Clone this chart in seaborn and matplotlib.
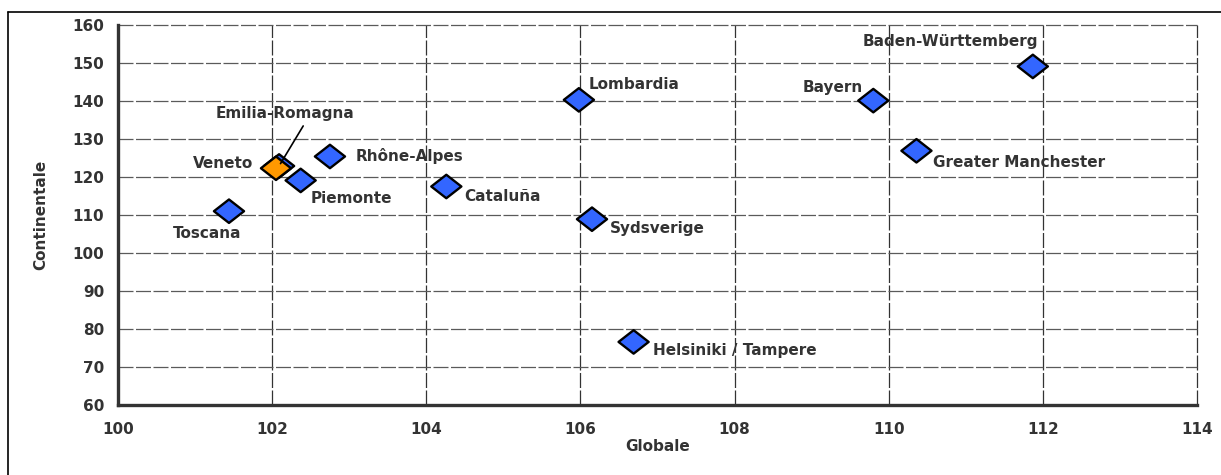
import matplotlib
matplotlib.use("Agg")
import matplotlib.pyplot as plt
import seaborn as sns
import pandas as pd
from matplotlib.path import Path
from matplotlib.lines import Line2D

# ---- data ----
regions = ["Toscana", "Emilia-Romagna", "Piemonte", "Rhône-Alpes", "Cataluña",
           "Lombardia", "Sydsverige", "Helsiniki / Tampere", "Bayern",
           "Greater Manchester", "Baden-Württemberg", "Veneto"]
globale = [101.44, 102.09, 102.37, 102.75, 104.26, 105.98, 106.15, 106.69,
           109.80, 110.36, 111.87, 102.05]
continentale = [111.0, 122.9, 119.1, 125.4, 117.5, 140.3, 108.9, 76.6,
                140.1, 126.9, 149.1, 122.3]
group = ["other"] * 11 + ["highlight"]
x_ticks = [100, 102, 104, 106, 108, 110, 112, 114]
y_ticks = [60, 70, 80, 90, 100, 110, 120, 130, 140, 150, 160]

df = pd.DataFrame({"Region": regions, "Globale": globale,
                   "Continentale": continentale, "Group": group})

# ---- style ----
sns.set_style("white")
plt.rcParams["font.family"] = ["DejaVu Sans"]
plt.rcParams["font.weight"] = "bold"
TXT = "#333333"
FS = 11

fig = plt.figure(figsize=(12.21, 4.75), dpi=100)
ax = fig.add_axes([118 / 1221, 1 - 405 / 475, (1197 - 118) / 1221, (405 - 25) / 475])

diamond = Path([(-1, 0), (0, 0.78), (1, 0), (0, -0.78), (-1, 0)],
               [Path.MOVETO, Path.LINETO, Path.LINETO, Path.LINETO, Path.CLOSEPOLY])

sns.scatterplot(data=df, x="Globale", y="Continentale", hue="Group",
                palette={"other": "#3366FF", "highlight": "#FF9900"},
                marker=diamond, s=470, edgecolor="black", linewidth=1.7,
                legend=False, ax=ax, zorder=5)

ax.set_xlim(100, 114)
ax.set_ylim(60, 160)
ax.set_xticks(x_ticks)
ax.set_yticks(y_ticks)
ax.set_xticklabels([str(t) for t in x_ticks], fontsize=FS, fontweight="bold", color=TXT)
ax.set_yticklabels([str(t) for t in y_ticks], fontsize=FS, fontweight="bold", color=TXT)
ax.tick_params(axis="x", length=0, pad=12)
ax.tick_params(axis="y", length=0, pad=10)

ax.grid(True, which="major", axis="x", linestyle=(0, (12, 2)), linewidth=0.9, color="#333333")
ax.grid(True, which="major", axis="y", linestyle=(0, (12, 2)), linewidth=0.9, color="#5a5a5a")
for gl in ax.get_xgridlines() + ax.get_ygridlines():
    gl.set_clip_on(False)
ax.set_axisbelow(True)
for side in ["top", "right"]:
    ax.spines[side].set_visible(False)
for side in ["left", "bottom"]:
    ax.spines[side].set_color("#333333")
    ax.spines[side].set_linewidth(2.4)
    ax.spines[side].set_zorder(3)

ax.set_xlabel("Globale", fontsize=FS, fontweight="bold", color=TXT, labelpad=2)
ax.set_ylabel("Continentale", fontsize=FS, fontweight="bold", color=TXT, labelpad=17)

# ---- labels (offsets in pixels) ----
offsets = {
    "Toscana": (-22, -22, "center"),
    "Piemonte": (10, -18, "left"),
    "Rhône-Alpes": (26, 0, "left"),
    "Cataluña": (18, -10, "left"),
    "Lombardia": (10, 15, "left"),
    "Sydsverige": (18, -9, "left"),
    "Helsiniki / Tampere": (19, -9, "left"),
    "Bayern": (-10, 13, "right"),
    "Greater Manchester": (17, -12, "left"),
    "Baden-Württemberg": (-82, 25, "center"),
    "Veneto": (-23, 5, "right"),
}
for r, gx, cy in zip(regions, globale, continentale):
    if r in offsets:
        dx, dy, ha = offsets[r]
        ax.annotate(r, (gx, cy), xytext=(dx, dy), textcoords="offset pixels",
                    ha=ha, va="center", fontsize=FS, fontweight="bold",
                    color=TXT, zorder=6)
    elif r == "Emilia-Romagna":
        ax.annotate(r, (gx, cy), xytext=(6, 52), textcoords="offset pixels",
                    ha="center", va="center", fontsize=FS, fontweight="bold",
                    color=TXT, zorder=6,
                    arrowprops=dict(arrowstyle="-", color="black", lw=1.2,
                                    shrinkA=1, shrinkB=2,
                                    relpos=(0.65, 0.0)))

# ---- outer frame (partial) ----
fig.add_artist(Line2D([8 / 1221, 1.0], [1 - 12 / 475, 1 - 12 / 475],
                      transform=fig.transFigure, color="black", lw=1.2))
fig.add_artist(Line2D([8 / 1221, 8 / 1221], [0, 1 - 12 / 475],
                      transform=fig.transFigure, color="black", lw=1.2))

fig.savefig("out.png", dpi=100)
